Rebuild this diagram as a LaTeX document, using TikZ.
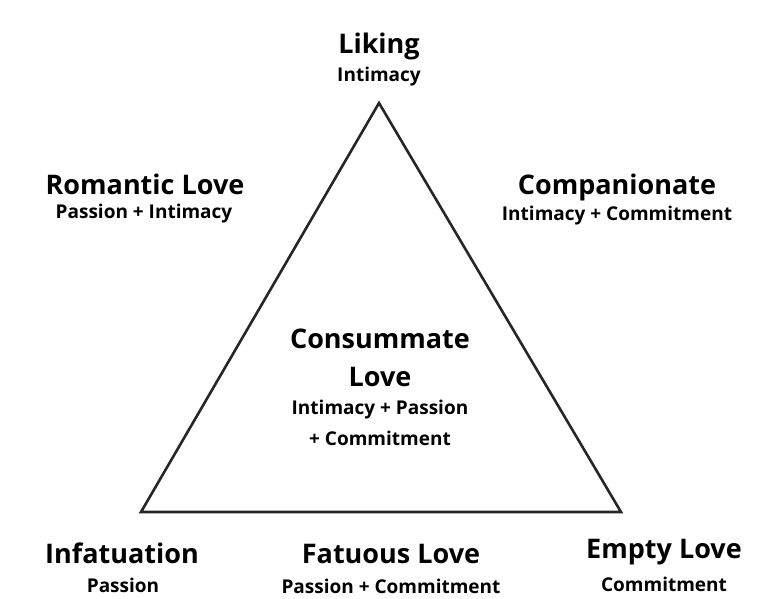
\documentclass[tikz,border=0pt]{standalone}
\usepackage{fontspec}
\setmainfont{Open Sans}[BoldFont={* Bold}]
\begin{document}
\begin{tikzpicture}[x=1pt,y=-1pt,
  title/.style={font=\bfseries\fontsize{27}{29}\selectfont, inner sep=0pt, anchor=center},
  sub/.style={font=\bfseries\fontsize{19}{21}\selectfont, inner sep=0pt, anchor=center},
  tri/.style={draw=black!85, line width=2.6pt, line join=miter}]
\useasboundingbox (0,0) rectangle (758,598);
\coordinate (A) at (379,103);
\coordinate (B) at (141,512);
\coordinate (C) at (621,512);
\draw[tri] (A) -- (B) -- (C) -- cycle;
\node[title] (liking) at (379,46) {Liking};
\node[sub] (likingsub) at (379,77) {Intimacy};
\node[title] (rom) at (145,184) {Romantic Love};
\node[sub] (romsub) at (144,214) {Passion + Intimacy};
\node[title] (comp) at (617,187) {Companionate};
\node[sub] (compsub) at (617,216) {Intimacy + Commitment};
\node[title] (cons1) at (380,339) {Consummate};
\node[title] (cons2) at (380,377) {Love};
\node[sub] (cons3) at (380,410) {Intimacy + Passion};
\node[sub] (cons4) at (380,438) {+ Commitment};
\node[title] (inf) at (122,553) {Infatuation};
\node[sub] (infsub) at (123,585) {Passion};
\node[title] (fat) at (391,554) {Fatuous Love};
\node[sub] (fatsub) at (391,586) {Passion + Commitment};
\node[title] (emp) at (664,552) {Empty Love};
\node[sub] (empsub) at (664,584) {Commitment};
\end{tikzpicture}
\end{document}
